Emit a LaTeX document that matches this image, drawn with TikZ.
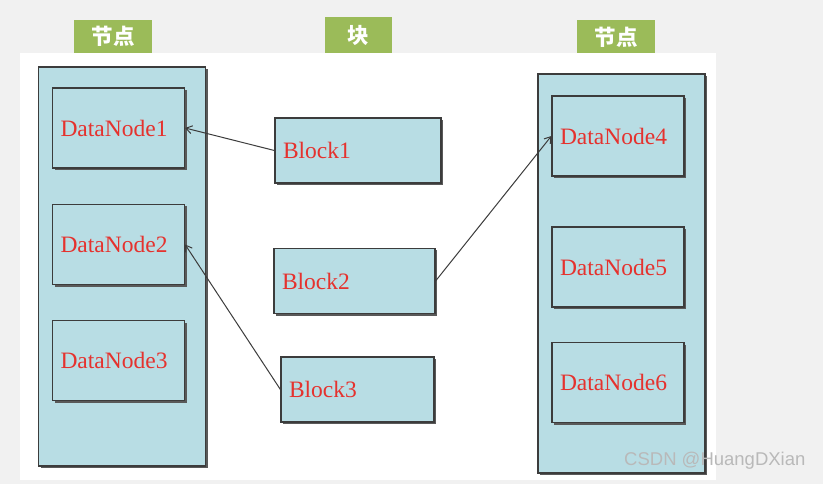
\documentclass[tikz,border=0pt]{standalone}
\usepackage{fontspec}
\setmainfont{Liberation Serif}
\newfontfamily\cjk{Noto Sans CJK SC}
\newfontfamily\wmfont{Liberation Sans}
\usetikzlibrary{arrows.meta,shadows}
\definecolor{boxblue}{HTML}{B8DDE4}
\definecolor{boxline}{HTML}{3C3C3C}
\definecolor{txtred}{HTML}{E5322E}
\definecolor{titlegreen}{HTML}{9BBB59}
\definecolor{pagegray}{HTML}{F1F1F1}
\tikzset{
	shadowed/.style={draw=boxline,fill=boxblue,line width=1.2pt,
		drop shadow={shadow xshift=2pt,shadow yshift=-2pt,fill=black!65,opacity=1}},
	holder/.style={shadowed,minimum width=167pt,minimum height=399pt},
	dnode/.style={shadowed,text width=116pt,inner xsep=8pt,minimum height=80pt,
		align=left,text=txtred,font=\fontsize{23.5}{26}\selectfont},
	blk/.style={shadowed,inner xsep=8pt,minimum height=65pt,
		align=left,text=txtred,font=\fontsize{23.5}{26}\selectfont},
	title/.style={fill=titlegreen,text=white,minimum height=33pt,inner sep=0pt,
		font=\cjk\bfseries\fontsize{21.5}{23}\selectfont},
	link/.style={draw=boxline,line width=1pt,-{Straight Barb[length=6pt,width=8pt]}}
}
\begin{document}
\begin{tikzpicture}[x=1pt,y=-1pt]
	\useasboundingbox (0,0) rectangle (823,484);
	\fill[pagegray] (0,0) rectangle (823,484);
	\fill[white] (20,53) rectangle (716,480);

	% titles
	\node[title,minimum width=78pt] (tleft) at (113,36.5) {节点};
	\node[title,minimum width=67pt,minimum height=36pt] (tmid) at (358.5,35) {块};
	\node[title,minimum width=78pt] (tright) at (616,37) {节点};

	% left column
	\node[holder] (lhold) at (122,266.5) {};
	\node[dnode] (dn1) at (118.5,128) {DataNode1};
	\node[dnode] (dn2) at (118.5,244.5) {DataNode2};
	\node[dnode] (dn3) at (118.5,360.5) {DataNode3};

	% right column
	\node[holder] (rhold) at (621.5,273.5) {};
	\node[dnode] (dn4) at (618,136) {DataNode4};
	\node[dnode] (dn5) at (618,267) {DataNode5};
	\node[dnode] (dn6) at (618,382.5) {DataNode6};

	% blocks
	\node[blk,text width=150pt] (b1) at (358,150.5) {Block1};
	\node[blk,text width=145pt] (b2) at (354.5,281) {Block2};
	\node[blk,text width=137pt] (b3) at (357.5,389.5) {Block3};

	\draw[link] (b1.west) -- (dn1.east);
	\draw[link] (b3.west) -- (dn2.east);
	\draw[link] (b2.east) -- (dn4.west);

	\node[anchor=west,inner sep=0pt,text=gray!55,font=\wmfont\fontsize{18.5}{20}\selectfont] (wm) at (624,461) {CSDN @HuangDXian};
\end{tikzpicture}
\end{document}
